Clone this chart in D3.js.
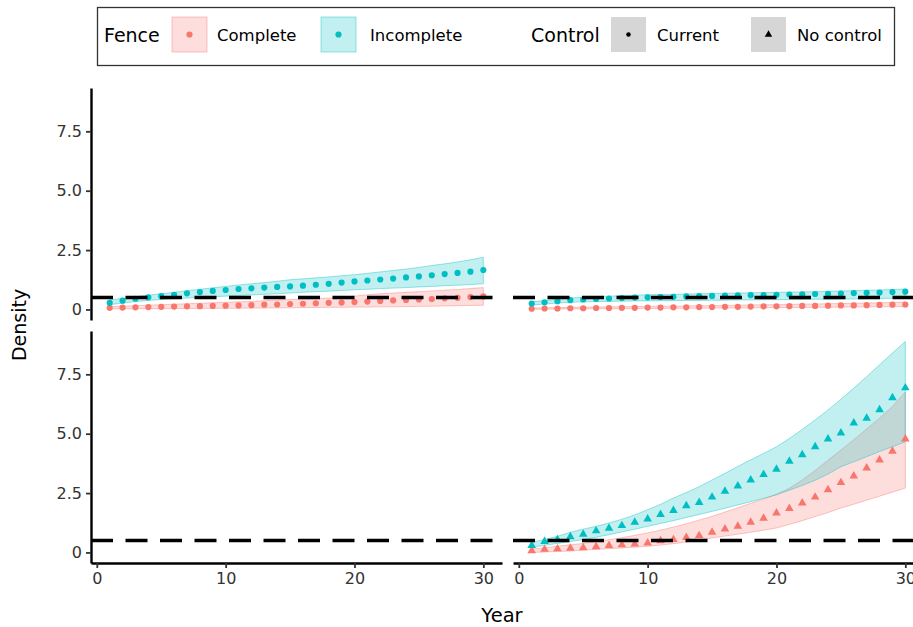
<!DOCTYPE html>
<html>
<head>
<meta charset="utf-8">
<script src="https://cdn.jsdelivr.net/npm/d3@7"></script>
<style>
body { margin: 0; background: #fff; }
svg { display: block; font-family: "DejaVu Sans", sans-serif; }
</style>
</head>
<body>
<script>
var years = [1,2,3,4,5,6,7,8,9,10,11,12,13,14,15,16,17,18,19,20,21,22,23,24,25,26,27,28,29,30];
var threshold = 0.5;
var fenceLevels = ["Complete", "Incomplete"];
var controlLevels = ["Current", "No control"];
var xTicks = [0, 10, 20, 30];
var yTicks = [0, 2.5, 5, 7.5];

// Current control, left column
var curLeftCompleteMean = [0.07,0.08,0.09,0.10,0.11,0.12,0.13,0.14,0.15,0.16,0.17,0.18,0.20,0.21,0.23,0.24,0.26,0.28,0.29,0.31,0.33,0.36,0.38,0.40,0.42,0.44,0.47,0.49,0.52,0.55];
var curLeftCompleteLower = [0.02,0.02,0.03,0.03,0.03,0.04,0.04,0.04,0.05,0.05,0.05,0.06,0.06,0.07,0.07,0.08,0.08,0.09,0.09,0.10,0.10,0.11,0.11,0.12,0.13,0.14,0.15,0.16,0.17,0.18];
var curLeftCompleteUpper = [0.12,0.14,0.16,0.18,0.20,0.22,0.24,0.26,0.28,0.30,0.32,0.34,0.37,0.39,0.42,0.44,0.46,0.48,0.51,0.56,0.62,0.66,0.69,0.72,0.75,0.78,0.81,0.84,0.88,0.92];
var curLeftIncompleteMean = [0.28,0.37,0.45,0.51,0.56,0.62,0.68,0.73,0.78,0.82,0.86,0.89,0.92,0.95,0.97,1.00,1.04,1.08,1.13,1.18,1.22,1.26,1.30,1.35,1.39,1.44,1.49,1.54,1.59,1.66];
var curLeftIncompleteLower = [0.20,0.27,0.33,0.38,0.42,0.45,0.48,0.51,0.54,0.56,0.59,0.61,0.64,0.66,0.69,0.72,0.75,0.77,0.80,0.83,0.85,0.88,0.90,0.92,0.95,0.97,1.00,1.02,1.05,1.08];
var curLeftIncompleteUpper = [0.40,0.47,0.54,0.60,0.66,0.72,0.79,0.85,0.91,0.97,1.03,1.08,1.13,1.19,1.25,1.29,1.33,1.37,1.42,1.46,1.52,1.58,1.64,1.70,1.77,1.85,1.92,2.00,2.09,2.20];

// Current control, right column
var curRightCompleteMean = [0.03,0.04,0.04,0.05,0.05,0.06,0.06,0.07,0.07,0.08,0.08,0.09,0.09,0.10,0.10,0.11,0.11,0.12,0.13,0.13,0.14,0.15,0.15,0.16,0.17,0.17,0.18,0.19,0.20,0.21];
var curRightCompleteLower = [0.01,0.01,0.02,0.02,0.02,0.03,0.03,0.03,0.04,0.04,0.04,0.05,0.05,0.05,0.06,0.06,0.06,0.07,0.07,0.08,0.08,0.08,0.09,0.09,0.10,0.10,0.11,0.11,0.12,0.12];
var curRightCompleteUpper = [0.06,0.07,0.08,0.09,0.10,0.10,0.11,0.12,0.12,0.13,0.14,0.14,0.15,0.16,0.16,0.17,0.18,0.19,0.20,0.20,0.21,0.22,0.23,0.24,0.25,0.26,0.27,0.28,0.29,0.31];
var curRightIncompleteMean = [0.25,0.30,0.35,0.39,0.42,0.44,0.46,0.48,0.50,0.51,0.52,0.53,0.55,0.56,0.57,0.58,0.59,0.60,0.61,0.62,0.63,0.64,0.65,0.66,0.67,0.69,0.70,0.71,0.73,0.75];
var curRightIncompleteLower = [0.18,0.23,0.27,0.30,0.32,0.33,0.34,0.35,0.36,0.36,0.37,0.37,0.38,0.38,0.39,0.39,0.40,0.40,0.41,0.41,0.42,0.42,0.43,0.43,0.44,0.44,0.45,0.46,0.47,0.48];
var curRightIncompleteUpper = [0.32,0.38,0.43,0.48,0.51,0.54,0.56,0.58,0.60,0.62,0.63,0.64,0.65,0.66,0.67,0.68,0.69,0.70,0.71,0.72,0.73,0.74,0.75,0.76,0.78,0.79,0.81,0.82,0.84,0.86];

// No control, right column
var noRightCompleteMean = [0.07,0.13,0.15,0.18,0.20,0.24,0.29,0.32,0.35,0.40,0.49,0.54,0.63,0.71,0.85,0.99,1.10,1.27,1.44,1.66,1.85,2.08,2.33,2.64,2.94,3.22,3.56,3.89,4.26,4.78];
var noRightCompleteLower = [0.00,0.02,0.04,0.06,0.10,0.13,0.16,0.19,0.22,0.26,0.31,0.37,0.44,0.52,0.61,0.69,0.77,0.85,0.94,1.03,1.18,1.34,1.51,1.68,1.87,2.03,2.20,2.37,2.54,2.71];
var noRightCompleteUpper = [0.15,0.20,0.26,0.32,0.38,0.46,0.54,0.62,0.72,0.82,0.94,1.07,1.21,1.36,1.52,1.70,1.88,2.07,2.25,2.45,2.70,3.05,3.45,3.88,4.31,4.75,5.20,5.65,6.15,6.75];
var noRightIncompleteMean = [0.29,0.46,0.54,0.66,0.77,0.91,1.02,1.13,1.27,1.41,1.60,1.77,1.97,2.10,2.33,2.58,2.80,3.05,3.28,3.50,3.84,4.11,4.45,4.78,5.03,5.45,5.65,6.01,6.51,6.93];
var noRightIncompleteLower = [0.22,0.30,0.38,0.46,0.54,0.64,0.75,0.86,0.98,1.10,1.22,1.34,1.47,1.60,1.73,1.86,2.00,2.14,2.28,2.43,2.62,2.82,3.04,3.30,3.61,3.82,4.03,4.25,4.45,4.66];
var noRightIncompleteUpper = [0.43,0.55,0.68,0.85,0.98,1.10,1.24,1.40,1.58,1.80,2.03,2.29,2.52,2.77,3.05,3.33,3.62,3.90,4.17,4.45,4.80,5.18,5.58,6.00,6.45,6.92,7.40,7.90,8.40,8.88];

var fenceColor = { "Complete": "#F8766D", "Incomplete": "#00BFC4" };

function makeSeries(fence, mean, lower, upper) {
    return years.map(function (yr, i) {
        return { fence: fence, year: yr, mean: mean[i], lower: lower[i], upper: upper[i] };
    });
}

var panels = [
    { row: 0, col: 0, control: "Current", series: [
        makeSeries("Complete", curLeftCompleteMean, curLeftCompleteLower, curLeftCompleteUpper),
        makeSeries("Incomplete", curLeftIncompleteMean, curLeftIncompleteLower, curLeftIncompleteUpper)] },
    { row: 0, col: 1, control: "Current", series: [
        makeSeries("Complete", curRightCompleteMean, curRightCompleteLower, curRightCompleteUpper),
        makeSeries("Incomplete", curRightIncompleteMean, curRightIncompleteLower, curRightIncompleteUpper)] },
    { row: 1, col: 0, control: "No control", series: [] },
    { row: 1, col: 1, control: "No control", series: [
        makeSeries("Complete", noRightCompleteMean, noRightCompleteLower, noRightCompleteUpper),
        makeSeries("Incomplete", noRightIncompleteMean, noRightIncompleteLower, noRightIncompleteUpper)] }
];

var width = 913, height = 627;
var colLeft = [91, 513];
var rowTop = [88, 331];
var panelW = 411, panelH = 232;

var svg = d3.select("body").append("svg").attr("width", width).attr("height", height);

// shared scales, ggplot style 5% expansion
var xPad = (d3.max(years) - d3.min(years)) * 0.05;
var x = d3.scaleLinear().domain([d3.min(years) - xPad, d3.max(years) + xPad]).range([0, panelW]);
var allValues = [threshold];
panels.forEach(function (p) {
    p.series.forEach(function (s) {
        s.forEach(function (d) { allValues.push(d.lower, d.upper, d.mean); });
    });
});
var yMin = d3.min(allValues), yMax = d3.max(allValues);
var yPad = (yMax - yMin) * 0.05;
var y = d3.scaleLinear().domain([yMin - yPad, yMax + yPad]).range([panelH, 0]);

var area = d3.area().x(d => x(d.year)).y0(d => y(d.lower)).y1(d => y(d.upper));
var circle = d3.symbol().type(d3.symbolCircle).size(30);
var triangle = d3.symbol().type(d3.symbolTriangle).size(32);

panels.forEach(function (p, i) {
    var g = svg.append("g").attr("transform", "translate(" + colLeft[p.col] + "," + rowTop[p.row] + ")");
    svg.append("clipPath").attr("id", "clip" + i)
        .append("rect").attr("width", panelW).attr("height", panelH);
    var plot = g.append("g").attr("clip-path", "url(#clip" + i + ")");

    p.series.forEach(function (s) {
        var c = fenceColor[s[0].fence];
        plot.append("path").datum(s)
            .attr("d", area)
            .attr("fill", c).attr("fill-opacity", 0.24)
            .attr("stroke", c).attr("stroke-opacity", 0.4).attr("stroke-width", 1);
    });
    p.series.forEach(function (s) {
        var c = fenceColor[s[0].fence];
        plot.selectAll(null).data(s).enter().append("path")
            .attr("transform", d => "translate(" + x(d.year) + "," + y(d.mean) + ")")
            .attr("d", p.control === "Current" ? circle : triangle)
            .attr("fill", c);
    });

    plot.append("line")
        .attr("x1", 0).attr("x2", panelW)
        .attr("y1", y(threshold)).attr("y2", y(threshold))
        .attr("stroke", "#000").attr("stroke-width", 3.5)
        .attr("stroke-dasharray", "22,12.5");

    if (p.col === 0) {
        var ya = g.append("g")
            .call(d3.axisLeft(y).tickValues(yTicks).tickSizeInner(5).tickSizeOuter(0).tickPadding(4)
                .tickFormat(d => d === 0 ? "0" : d3.format(".1f")(d)));
        styleAxis(ya);
    }
    if (p.row === 1) {
        var xa = g.append("g").attr("transform", "translate(0," + panelH + ")")
            .call(d3.axisBottom(x).tickValues(xTicks).tickSizeInner(5).tickSizeOuter(0).tickPadding(5));
        styleAxis(xa);
    }
});

function styleAxis(a) {
    a.select(".domain").attr("stroke", "#000").attr("stroke-width", 2.4);
    a.selectAll(".tick line").attr("stroke", "#333").attr("stroke-width", 1.8);
    a.selectAll(".tick text").attr("fill", "#333").style("font-size", "16px")
        .style("font-family", "DejaVu Sans, sans-serif");
}

svg.append("text")
    .attr("transform", "translate(26,325) rotate(-90)")
    .attr("text-anchor", "middle")
    .style("font-size", "19px")
    .text("Density");
svg.append("text")
    .attr("x", 502).attr("y", 622)
    .attr("text-anchor", "middle")
    .style("font-size", "19.5px")
    .text("Year");

// legend
var legend = svg.append("g");
legend.append("rect").attr("x", 97.5).attr("y", 7.5).attr("width", 797).attr("height", 58)
    .attr("fill", "#fff").attr("stroke", "#333").attr("stroke-width", 1.3);
legend.append("text").attr("x", 104).attr("y", 42).style("font-size", "19px").text("Fence");
legend.append("text").attr("x", 531).attr("y", 42).style("font-size", "19px").text("Control");

var fenceKeys = [{ x: 172, lx: 217 }, { x: 321, lx: 370 }];
fenceLevels.forEach(function (f, i) {
    var k = fenceKeys[i];
    legend.append("rect").attr("x", k.x).attr("y", 17).attr("width", 35).attr("height", 35)
        .attr("fill", fenceColor[f]).attr("fill-opacity", 0.24)
        .attr("stroke", fenceColor[f]).attr("stroke-opacity", 0.4);
    legend.append("path").attr("transform", "translate(" + (k.x + 17.5) + ",34.5)")
        .attr("d", circle).attr("fill", fenceColor[f]);
    legend.append("text").attr("x", k.lx).attr("y", 41).style("font-size", "16.5px").text(f);
});

var controlKeys = [{ x: 611, lx: 657 }, { x: 751, lx: 797 }];
controlLevels.forEach(function (c, i) {
    var k = controlKeys[i];
    legend.append("rect").attr("x", k.x).attr("y", 17).attr("width", 35).attr("height", 35)
        .attr("fill", "#d6d6d6");
    legend.append("path").attr("transform", "translate(" + (k.x + 17.5) + ",34.5)")
        .attr("d", i === 0 ? d3.symbol().type(d3.symbolCircle).size(16) : d3.symbol().type(d3.symbolTriangle).size(24))
        .attr("fill", "#000");
    legend.append("text").attr("x", k.lx).attr("y", 41).style("font-size", "16.5px").text(c);
});
</script>
</body>
</html>
